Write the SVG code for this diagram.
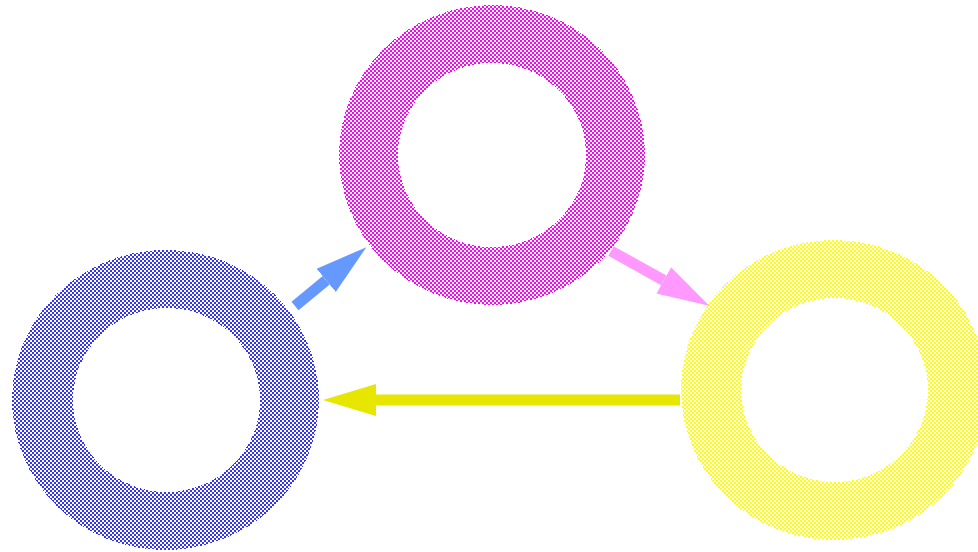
<svg xmlns="http://www.w3.org/2000/svg" width="978" height="552" viewBox="0 0 978 552">
<style>
.ring{fill-rule:evenodd;shape-rendering:crispEdges}
.shaft{stroke-width:11;fill:none}
</style>
<defs>
<pattern id="pm" patternUnits="userSpaceOnUse" width="4" height="4"><rect width="2" height="2" fill="#ff00ff"/><rect x="2" y="2" width="2" height="2" fill="#ff00ff"/></pattern>
<pattern id="pb" patternUnits="userSpaceOnUse" width="4" height="4"><rect width="2" height="2" fill="#3333ff"/><rect x="2" y="2" width="2" height="2" fill="#3333ff"/></pattern>
<pattern id="py" patternUnits="userSpaceOnUse" width="4" height="4"><rect width="2" height="2" fill="#ffff00"/><rect x="2" y="2" width="2" height="2" fill="#ffff00"/></pattern>
<marker id="hb" markerUnits="userSpaceOnUse" markerWidth="60" markerHeight="40" refX="0" refY="20" orient="auto" viewBox="0 0 60 40"><path d="M0,5 L52,20 L0,35 z" fill="#6699ff"/></marker>
<marker id="hp" markerUnits="userSpaceOnUse" markerWidth="60" markerHeight="40" refX="0" refY="20" orient="auto" viewBox="0 0 60 40"><path d="M0,5 L52,20 L0,35 z" fill="#ff99ff"/></marker>
<marker id="hy" markerUnits="userSpaceOnUse" markerWidth="60" markerHeight="40" refX="0" refY="20" orient="auto" viewBox="0 0 60 40"><path d="M0,4 L53,20 L0,36 z" fill="#e6e600"/></marker>
</defs>
<rect width="978" height="552" fill="#ffffff"/>
<g id="node-top">
<path class="ring" fill="url(#pm)" d="M339,155 a153,150 0 1,0 306,0 a153,150 0 1,0 -306,0 z M398,155 a94,92 0 1,0 188,0 a94,92 0 1,0 -188,0 z"/>
</g>
<g id="node-left">
<path class="ring" fill="url(#pb)" d="M12,400 a153.5,150 0 1,0 307,0 a153.5,150 0 1,0 -307,0 z M73,400 a93.5,92 0 1,0 187,0 a93.5,92 0 1,0 -187,0 z"/>
</g>
<g id="node-right">
<path class="ring" fill="url(#py)" d="M681,390 a153,150 0 1,0 306,0 a153,150 0 1,0 -306,0 z M741,390 a93.5,92 0 1,0 187,0 a93.5,92 0 1,0 -187,0 z"/>
</g>
<g id="connectors">
<path class="shaft" stroke="#6699ff" d="M295,306 L326.2,280.3" marker-end="url(#hb)"/>
<path class="shaft" stroke="#ff99ff" d="M611,251 L663.8,280.4" marker-end="url(#hp)"/>
<path class="shaft" stroke="#e6e600" d="M680,400 L376,400" marker-end="url(#hy)"/>
</g>
</svg>
